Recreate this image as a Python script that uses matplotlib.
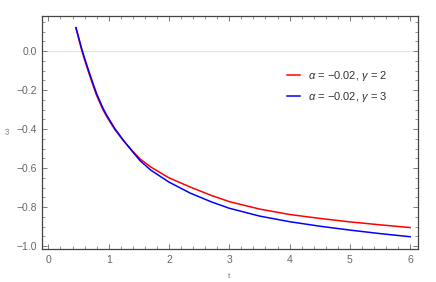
import matplotlib
matplotlib.use("Agg")
import matplotlib.pyplot as plt
from matplotlib.ticker import MultipleLocator, FuncFormatter

plt.rcParams['font.family'] = ['Liberation Sans', 'DejaVu Sans']
plt.rcParams['mathtext.fontset'] = 'custom'
plt.rcParams['mathtext.rm'] = 'Liberation Sans'
plt.rcParams['mathtext.it'] = 'Liberation Sans:italic'

# data
t = [0.456, 0.5, 0.556, 0.6, 0.672, 0.75, 0.8, 0.9, 0.965, 1.1, 1.24, 1.38,
     1.52, 1.7, 2.0, 2.35, 2.7, 3.0, 3.5, 4.0, 4.5, 5.0, 5.5, 6.0]
omega_g2 = [0.12, 0.065, 0.0, -0.045, -0.114, -0.185, -0.228, -0.298, -0.335,
            -0.402, -0.458, -0.508, -0.553, -0.595, -0.650, -0.697, -0.74,
            -0.772, -0.81, -0.838, -0.858, -0.876, -0.891, -0.905]
omega_g3 = [0.12, 0.072, 0.007, -0.037, -0.105, -0.176, -0.219, -0.29, -0.328,
            -0.397, -0.456, -0.51, -0.562, -0.611, -0.672, -0.728, -0.773,
            -0.806, -0.846, -0.875, -0.898, -0.918, -0.936, -0.952]
labels = [r'$\mathit{α}$ = −0.02, $\mathit{γ}$ = 2',
          r'$\mathit{α}$ = −0.02, $\mathit{γ}$ = 3']
colors = ['#ff0000', '#0000ff']

W, H = 436, 282
fig = plt.figure(figsize=(W / 100, H / 100), dpi=100)
ax = fig.add_axes([41.5 / W, 1 - 249 / H, (418 - 41.5) / W, (249 - 16) / H])

ax.axhline(0, color='#e3e3e3', lw=0.8, zorder=0)
ax.plot(t, omega_g2, color=colors[0], lw=1.1, label=labels[0])
ax.plot(t, omega_g3, color=colors[1], lw=1.1, label=labels[1])

ax.set_xlim(-0.115, 6.13)
ax.set_ylim(-1.015, 0.18)

ax.xaxis.set_major_locator(MultipleLocator(1))
ax.xaxis.set_minor_locator(MultipleLocator(0.2))
ax.yaxis.set_major_locator(MultipleLocator(0.2))
ax.yaxis.set_minor_locator(MultipleLocator(0.05))
ax.xaxis.set_major_formatter(FuncFormatter(lambda v, p: f"{v:.0f}"))
ax.yaxis.set_major_formatter(FuncFormatter(lambda v, p: f"{v:.1f}".replace('-', '\u2212') if abs(v) > 1e-9 else "0.0"))

for s in ax.spines.values():
    s.set_color('#444444')
    s.set_linewidth(0.9)
ax.tick_params(which='both', direction='in', top=True, right=True,
               color='#666666', labelcolor='#666666', labelsize=7.5)
ax.tick_params(which='major', length=3.5, width=0.6)
ax.tick_params(which='minor', length=2, width=0.5)
ax.tick_params(axis='x', pad=4)
ax.tick_params(axis='y', pad=3)

leg = ax.legend(loc='upper left', bbox_to_anchor=(0.64, 0.79), frameon=False,
                fontsize=8, handlelength=1.2, handletextpad=0.7,
                labelspacing=0.6, borderaxespad=0)
for txt in leg.get_texts():
    txt.set_color('#333333')

fig.text(8 / W, 1 - 131 / H, 'ω', fontsize=6, color='#777777', ha='center', va='center', rotation=90)
fig.text(229 / W, 1 - 276 / H, 't', fontsize=6, color='#777777', ha='center', va='center')

fig.savefig('out.png', dpi=100)
